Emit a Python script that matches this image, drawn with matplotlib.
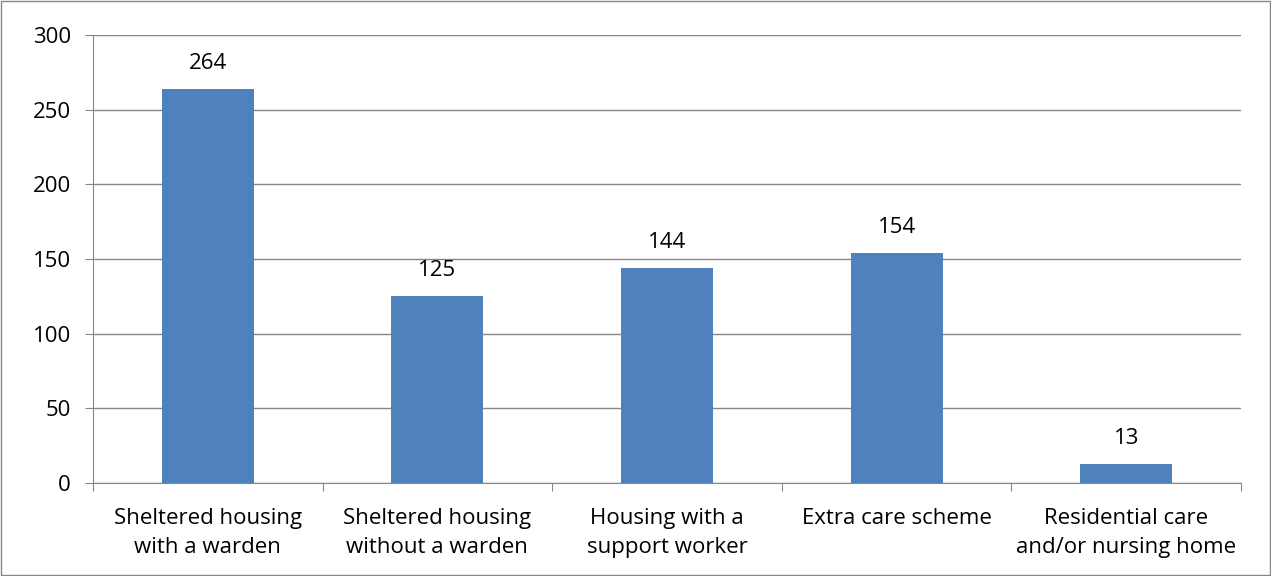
import matplotlib.pyplot as plt
import numpy as np

categories = ["Sheltered housing\nwith a warden", "Sheltered housing\nwithout a warden",
              "Housing with a\nsupport worker", "Extra care scheme",
              "Residential care\nand/or nursing home"]
values = [264, 125, 144, 154, 13]
yticks = [0, 50, 100, 150, 200, 250, 300]

plt.rcParams['font.family'] = ['Open Sans', 'DejaVu Sans']

fig = plt.figure(figsize=(12.71, 5.76), dpi=100)
ax = fig.add_axes([93 / 1271, 1 - 483 / 576, (1241 - 93) / 1271, (483 - 35) / 576])

x = np.arange(len(categories))
bars = ax.bar(x, values, width=0.4, color='#4F81BD', zorder=3)
for b, v in zip(bars, values):
    ax.text(b.get_x() + b.get_width() / 2, v + 10, str(v), ha='center', va='bottom', fontsize=16)

ax.set_xlim(-0.5, len(categories) - 0.5)
ax.set_ylim(0, 300)
ax.set_yticks(yticks)
ax.set_yticklabels([str(t) for t in yticks], fontsize=16)
ax.yaxis.grid(True, color='#868686', linewidth=1, zorder=0)

ax.set_xticks(np.arange(len(categories) + 1) - 0.5)
ax.set_xticklabels([])
ax.set_xticks(x, minor=True)
ax.set_xticklabels(categories, minor=True, fontsize=16, linespacing=1.5)
ax.tick_params(axis='x', which='minor', length=0, pad=18)
ax.tick_params(axis='x', which='major', length=6, color='#868686')
ax.tick_params(axis='y', length=6, color='#868686', pad=10)

for s in ['top', 'right']:
    ax.spines[s].set_visible(False)
ax.spines['left'].set_color('#868686')
ax.spines['bottom'].set_color('#868686')

fig.patches.append(plt.Rectangle((0.001, 0.001), 0.998, 0.997, transform=fig.transFigure,
                                 fill=False, edgecolor='#868686', linewidth=1))

fig.savefig('out.png', dpi=100)
